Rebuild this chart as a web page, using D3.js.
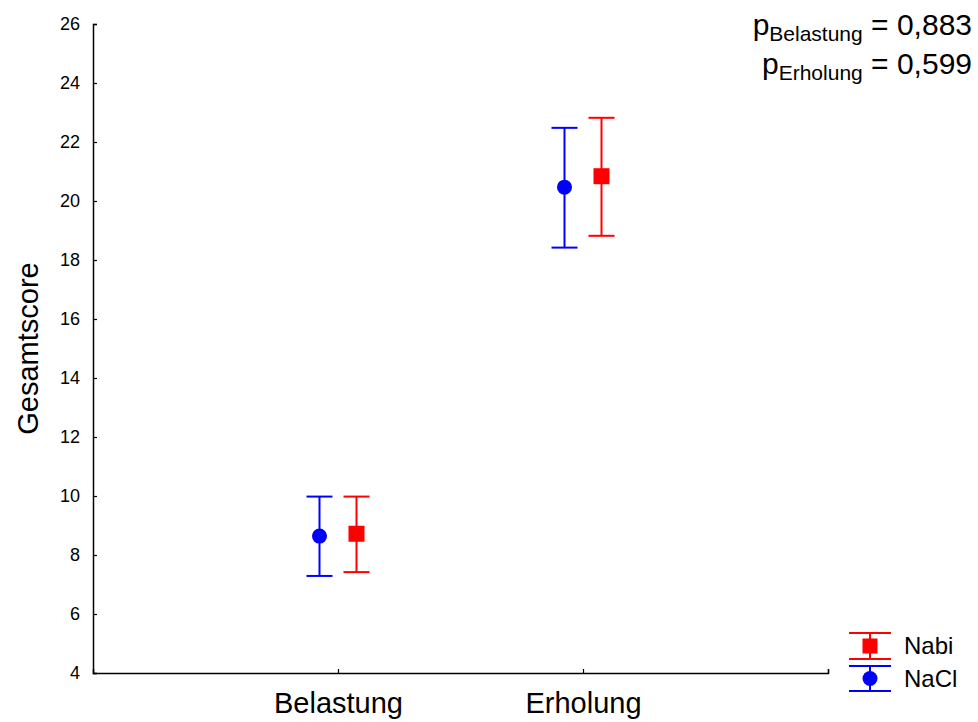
<!DOCTYPE html>
<html>
<head>
<meta charset="utf-8">
<script src="https://cdn.jsdelivr.net/npm/d3@7"></script>
<style>
  body { margin: 0; background: #fff; }
  svg { display: block; font-family: "Liberation Sans", Arial, sans-serif; }
</style>
</head>
<body>
<svg id="chart" width="978" height="722"></svg>
<script>
// Data
const phases = ['Belastung', 'Erholung'];
const groups = ['NaCl', 'Nabi'];
const naclMean = [8.64, 20.47];
const naclUpper = [9.98, 22.48];
const naclLower = [7.29, 18.42];
const nabiMean = [8.72, 20.84];
const nabiUpper = [9.98, 22.82];
const nabiLower = [7.42, 18.82];
const yTicks = [4, 6, 8, 10, 12, 14, 16, 18, 20, 22, 24, 26];
const pLabels = [['Belastung', '0,883'], ['Erholung', '0,599']];

const colors = { NaCl: '#0000ff', Nabi: '#ff0000' };

const series = [
  { name: 'NaCl', mean: naclMean, upper: naclUpper, lower: naclLower, offset: -18.5 },
  { name: 'Nabi', mean: nabiMean, upper: nabiUpper, lower: nabiLower, offset: 18.5 }
];

const svg = d3.select('#chart');
const plotLeft = 93, plotRight = 828, plotTop = 24, plotBottom = 673;

// Scales: categories sit at 1 and 2 on a 0..3 axis
const x = d3.scaleLinear().domain([0, 3]).range([plotLeft, plotRight]);
const y = d3.scaleLinear().domain([4, 26]).range([plotBottom, plotTop]);

// Y axis (ticks point inward)
const yAxis = svg.append('g')
  .attr('transform', `translate(${plotLeft},0)`)
  .call(d3.axisLeft(y).tickValues(yTicks).tickSize(-4).tickPadding(13));
yAxis.select('.domain').attr('stroke', '#000').attr('stroke-width', 1.5);
yAxis.selectAll('.tick line').attr('stroke', '#000').attr('stroke-width', 1.2);
yAxis.selectAll('.tick text')
  .style('font-size', '18px')
  .style('font-family', '"Liberation Sans", Arial, sans-serif')
  .attr('fill', '#000');

// X axis
const xAxis = svg.append('g')
  .attr('transform', `translate(0,${plotBottom})`)
  .call(d3.axisBottom(x).tickValues([1, 2, 3]).tickSize(-4)
    .tickFormat(d => phases[d - 1] || ''));
xAxis.select('.domain').attr('stroke', '#000').attr('stroke-width', 1.5);
xAxis.selectAll('.tick line').attr('stroke', '#000').attr('stroke-width', 1.2);
xAxis.selectAll('.tick text')
  .style('font-size', '29px')
  .style('font-family', '"Liberation Sans", Arial, sans-serif')
  .attr('fill', '#000').attr('dy', 0)
  .attr('y', 40);

// Y axis title
svg.append('text')
  .attr('transform', `translate(38,${(plotTop + plotBottom) / 2}) rotate(-90)`)
  .attr('text-anchor', 'middle')
  .attr('font-size', 29)
  .text('Gesamtscore');

// Error bars and markers
const capHalf = 13;
series.forEach(s => {
  const g = svg.append('g').attr('class', 'series');
  const c = colors[s.name];
  phases.forEach((p, i) => {
    const cx = x(i + 1) + s.offset;
    g.append('line')
      .attr('x1', cx).attr('x2', cx)
      .attr('y1', y(s.upper[i])).attr('y2', y(s.lower[i]))
      .attr('stroke', c).attr('stroke-width', 2);
    [s.upper[i], s.lower[i]].forEach(v => {
      g.append('line')
        .attr('x1', cx - capHalf).attr('x2', cx + capHalf)
        .attr('y1', y(v)).attr('y2', y(v))
        .attr('stroke', c).attr('stroke-width', 2);
    });
    if (s.name === 'NaCl') {
      g.append('circle').attr('cx', cx).attr('cy', y(s.mean[i])).attr('r', 7.5).attr('fill', c);
    } else {
      g.append('rect')
        .attr('x', cx - 8).attr('y', y(s.mean[i]) - 8)
        .attr('width', 16).attr('height', 16).attr('fill', c);
    }
  });
});

// Legend
const legend = svg.append('g').attr('transform', 'translate(870,0)');
const legendItems = [
  { name: 'Nabi', yTop: 633, yBot: 659 },
  { name: 'NaCl', yTop: 666, yBot: 691 }
];
legendItems.forEach(it => {
  const c = colors[it.name];
  const cy = (it.yTop + it.yBot) / 2;
  legend.append('line').attr('x1', 0).attr('x2', 0)
    .attr('y1', it.yTop).attr('y2', it.yBot).attr('stroke', c).attr('stroke-width', 2);
  [it.yTop, it.yBot].forEach(yy => {
    legend.append('line').attr('x1', -21).attr('x2', 21)
      .attr('y1', yy).attr('y2', yy).attr('stroke', c).attr('stroke-width', 2);
  });
  if (it.name === 'NaCl') {
    legend.append('circle').attr('cx', 0).attr('cy', cy).attr('r', 7.5).attr('fill', c);
  } else {
    legend.append('rect').attr('x', -7.5).attr('y', cy - 7.5)
      .attr('width', 15).attr('height', 15).attr('fill', c);
  }
  legend.append('text')
    .attr('x', 34).attr('y', cy + 8)
    .attr('font-size', 24)
    .text(it.name);
});

// p values, top right
pLabels.forEach((d, i) => {
  const t = svg.append('text')
    .attr('x', 972).attr('y', 35 + i * 39)
    .attr('text-anchor', 'end')
    .attr('font-size', 30);
  t.append('tspan').text('p');
  t.append('tspan').attr('font-size', 21).attr('dy', 6).text(d[0]);
  t.append('tspan').attr('dy', -6).text(` = ${d[1]}`);
});
</script>
</body>
</html>
